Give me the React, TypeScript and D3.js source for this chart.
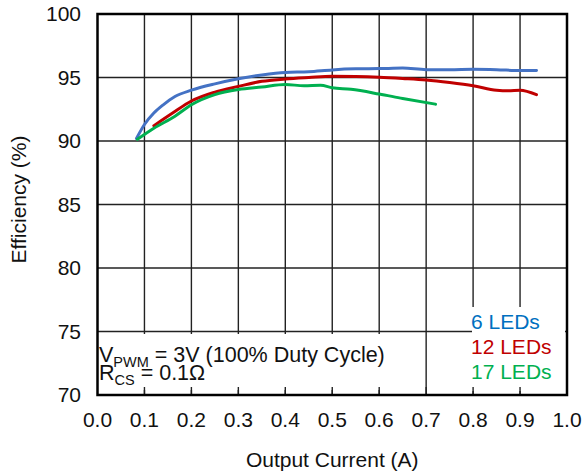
import React from "react";
import * as d3 from "d3";

const xTicks = [0, 0.1, 0.2, 0.3, 0.4, 0.5, 0.6, 0.7, 0.8, 0.9, 1.0];
const yTicks = [70, 75, 80, 85, 90, 95, 100];

const led6X = [0.083, 0.1, 0.12, 0.14, 0.165, 0.2, 0.25, 0.3, 0.35, 0.4, 0.45, 0.5, 0.55, 0.6, 0.65, 0.7, 0.75, 0.8, 0.85, 0.9, 0.935];
const led6Y = [90.2, 91.3, 92.2, 92.85, 93.5, 94.0, 94.5, 94.9, 95.2, 95.4, 95.45, 95.6, 95.68, 95.7, 95.74, 95.62, 95.62, 95.65, 95.62, 95.55, 95.56];

const led12X = [0.12, 0.16, 0.2, 0.25, 0.3, 0.35, 0.4, 0.45, 0.5, 0.55, 0.6, 0.65, 0.7, 0.75, 0.8, 0.85, 0.875, 0.9, 0.935];
const led12Y = [91.2, 92.2, 93.15, 93.85, 94.3, 94.7, 94.88, 95.0, 95.1, 95.08, 95.02, 94.92, 94.8, 94.6, 94.35, 94.0, 93.95, 94.0, 93.65];

const led17X = [0.085, 0.12, 0.165, 0.2, 0.25, 0.3, 0.35, 0.4, 0.44, 0.475, 0.5, 0.54, 0.6, 0.65, 0.72];
const led17Y = [90.13, 91.0, 91.95, 92.85, 93.65, 94.05, 94.25, 94.45, 94.35, 94.38, 94.2, 94.07, 93.7, 93.35, 92.9];

const seriesNames = ["6 LEDs", "12 LEDs", "17 LEDs"];
const lineColors = ["#4472C4", "#C00000", "#00B050"];
const textColors = ["#0070C0", "#C00000", "#00B050"];

const W = 585, H = 472;
const L = 97.5, R = 567, T = 14, B = 395;
const FONT = "'Liberation Sans', Arial, sans-serif";

export default function App() {
  const x = d3.scaleLinear().domain([0, 1]).range([L, R]);
  const y = d3.scaleLinear().domain([70, 100]).range([B, T]);
  const line = d3.line<[number, number]>().x(d => x(d[0])).y(d => y(d[1])).curve(d3.curveMonotoneX);
  const series = [
    led6X.map((v, i) => [v, led6Y[i]] as [number, number]),
    led12X.map((v, i) => [v, led12Y[i]] as [number, number]),
    led17X.map((v, i) => [v, led17Y[i]] as [number, number]),
  ];
  return (
    <svg width={W} height={H} style={{ position: "absolute", left: 0, top: 0, background: "#fff" }} fontFamily={FONT}>
      <rect x={0} y={0} width={W} height={H} fill="#fff" />
      {xTicks.slice(1, -1).map(t => (
        <line key={"gx" + t} x1={x(t)} x2={x(t)} y1={T} y2={B} stroke="#222" strokeWidth={1.4} />
      ))}
      {yTicks.slice(1, -1).map(t => (
        <line key={"gy" + t} x1={L} x2={R} y1={y(t)} y2={y(t)} stroke="#222" strokeWidth={1.4} />
      ))}
      {series.map((s, i) => (
        <path key={"s" + i} d={line(s) || ""} fill="none" stroke={lineColors[i]} strokeWidth={3} strokeLinejoin="round" strokeLinecap="round" />
      ))}
      <rect x={99} y={334} width={326} height={56} fill="#fff" />
      <rect x={472} y={307} width={93} height={84} fill="#fff" />
      {xTicks.slice(1, -1).map(t => (
        <line key={"tx" + t} x1={x(t)} x2={x(t)} y1={B - 8} y2={B} stroke="#222" strokeWidth={1.4} />
      ))}
      <rect x={L} y={T} width={R - L} height={B - T} fill="none" stroke="#000" strokeWidth={2.5} />
      {xTicks.map(t => (
        <text key={"lx" + t} x={x(t)} y={427} fontSize={21} textAnchor="middle" fill="#111">{t.toFixed(1)}</text>
      ))}
      {yTicks.map(t => (
        <text key={"ly" + t} x={81} y={y(t)} dy="0.35em" fontSize={21} textAnchor="end" fill="#111">{t}</text>
      ))}
      <text x={(L + R) / 2} y={467} fontSize={21} textAnchor="middle" fill="#111">Output Current (A)</text>
      <text transform={`translate(26,${(T + B) / 2 - 5}) rotate(-90)`} fontSize={21} textAnchor="middle" fill="#111">Efficiency (%)</text>
      <text x={99} y={362} fontSize={21.5} fill="#111">
        V<tspan fontSize={14.5} dy={5}>PWM</tspan><tspan dy={-5}> = 3V (100% Duty Cycle)</tspan>
      </text>
      <text x={99} y={380} fontSize={21.5} fill="#111">
        R<tspan fontSize={14.5} dy={5}>CS</tspan><tspan dy={-5}> = 0.1Ω</tspan>
      </text>
      {seriesNames.map((n, i) => (
        <text key={"lg" + i} x={471} y={329 + i * 25} fontSize={21} fill={textColors[i]}>{n}</text>
      ))}
    </svg>
  );
}
